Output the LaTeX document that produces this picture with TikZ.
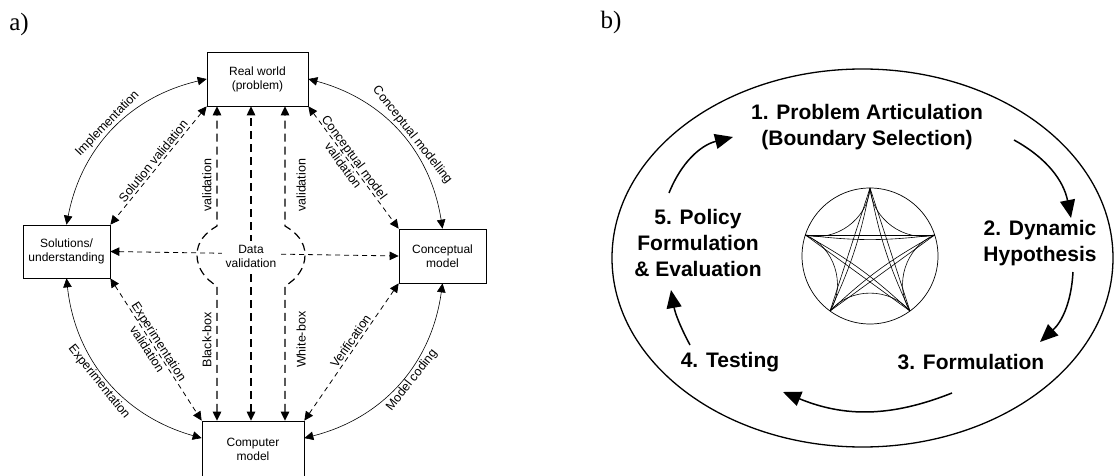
\documentclass[tikz,border=0pt]{standalone}
\usepackage{fontspec}
\setmainfont{Liberation Sans}
\newfontfamily\panelfont{Liberation Serif}
\usetikzlibrary{arrows.meta, positioning, calc}
\tikzset{
  boxA/.style={rectangle, draw, line width=0.7pt, align=center, inner sep=0pt,
               font=\fontsize{12}{14}\selectfont},
  lbl/.style={font=\fontsize{12.5}{14}\selectfont, align=center, inner sep=2pt},
  panel/.style={font=\panelfont\fontsize{25}{28}\selectfont},
  arrowS/.style={{Triangle[length=9pt,width=8.5pt]}-{Triangle[length=9pt,width=8.5pt]},
                 line width=0.6pt},
  arrowV/.style={{Triangle[length=9pt,width=8.5pt]}-{Triangle[length=9pt,width=8.5pt]},
                 line width=0.8pt, dash pattern=on 5pt off 4pt},
  arrowDV/.style={{Triangle[length=9pt,width=8.5pt]}-{Triangle[length=9pt,width=8.5pt]},
                  line width=1.2pt, dash pattern=on 8pt off 5pt},
  stepT/.style={font=\fontsize{21}{26}\selectfont\bfseries, align=center, inner sep=1pt},
  arrowC/.style={-{Triangle[length=18pt,width=15pt]}, line width=1.5pt},
}

\begin{document}
\begin{tikzpicture}[x=1pt, y=1pt]
  \useasboundingbox (0,0) rectangle (1114,475);
  % a) validation cycle
  \node[panel] (pa) at (19,451) {a)};
  \node[boxA, minimum width=101pt, minimum height=54pt] (rw) at (257.5,396) {Real world\\(problem)};
  \node[boxA, minimum width=87pt, minimum height=53pt] (sol) at (66.5,223.5) {Solutions/\\understanding};
  \node[boxA, minimum width=87pt, minimum height=54pt] (conc) at (442.5,219) {Conceptual\\model};
  \node[boxA, minimum width=102pt, minimum height=56pt] (comp) at (253,26) {Computer\\model};

  \draw[arrowS] (rw.west) to[bend right=33]
    node[lbl, sloped, above, pos=0.5] {Implementation} (sol.north);
  \draw[arrowS] (rw.east) to[bend left=33]
    node[lbl, sloped, above, pos=0.55] {Conceptual modelling} (conc.north);
  \draw[arrowS] (sol.south) to[bend right=34]
    node[lbl, sloped, below, pos=0.48] {Experimentation} (comp.168);
  \draw[arrowS] (conc.south) to[bend left=34]
    node[lbl, sloped, below, pos=0.45] {Model coding} (comp.12);

  \draw[arrowV] (rw.south west) --
    node[lbl, sloped, above] {Solution validation} (sol.north east);
  \draw[arrowV] (rw.south east) --
    node[lbl, sloped, pos=0.45] {Conceptual model\\validation} (conc.north west);
  \draw[arrowV] (sol.south east) --
    node[lbl, sloped, pos=0.47] {Experimentation\\validation} (comp.north west);
  \draw[arrowV] (conc.south west) --
    node[lbl, sloped, above, pos=0.45] {Verification} (comp.north east);
  \draw[arrowV] (sol.east) -- (conc.west);

  % data validation
  \coordinate (dvc) at (251,219);
  \coordinate (vL) at (217,220);
  \coordinate (vM) at (251,220);
  \coordinate (vR) at (285,220);
  \draw[arrowDV] (comp.north -| vL) -- node[lbl, sloped, above=3pt, pos=0.6] {Black-box}
    ([yshift=-31pt]vL) .. controls +(-12,7) and +(0,-13) .. ([xshift=-20pt]vL)
    .. controls +(0,13) and +(-12,-7) .. ([yshift=29pt]vL)
    -- node[lbl, sloped, above=3pt, pos=0.34] {validation} (rw.south -| vL);
  \draw[arrowDV] (comp.north -| vR) -- node[lbl, sloped, below=9pt, pos=0.6] {White-box}
    ([yshift=-31pt]vR) .. controls +(12,7) and +(0,-13) .. ([xshift=20pt]vR)
    .. controls +(0,13) and +(12,-7) .. ([yshift=29pt]vR)
    -- node[lbl, sloped, below=9pt, pos=0.34] {validation} (rw.south -| vR);
  \draw[arrowDV] (comp.north -| vM) -- (rw.south -| vM);
  \node[lbl, fill=white, inner sep=4pt, font=\fontsize{12}{14}\selectfont] (dv) at (dvc) {Data\\validation};

  % b) modelling process
  \node[panel] (pb) at (611,453) {b)};
  \draw[line width=1.3pt] (862.5,217) ellipse [x radius=250.5, y radius=189];
  \node[circle, draw, line width=0.7pt, minimum size=136pt, inner sep=0pt] (hub) at (870,219) {};
  \foreach \i in {0,...,4}
    \coordinate (v\i) at ($(hub.center)+({90+72*\i}:68)$);
  \foreach \i in {0,...,4} {
    \pgfmathtruncatemacro{\j}{mod(\i+2,5)}
    \pgfmathtruncatemacro{\k}{mod(\i+1,5)}
    \draw[line width=0.6pt] (v\i) -- (v\j);
    \draw[line width=0.6pt] (v\i) to[bend left=7] (v\j);
    \draw[line width=0.6pt] (v\i) to[bend left=50] (v\k);
  }

  \node[stepT] (p1) at (867,348) {1. Problem Articulation\\(Boundary Selection)};
  \node[stepT] (p2) at (1040,232) {2. Dynamic\\Hypothesis};
  \node[stepT] (p3) at (971,113) {3. Formulation};
  \node[stepT] (p4) at (730,113) {4. Testing};
  \node[stepT] (p5) at (698,232) {5. Policy\\Formulation\\\& Evaluation};

  \draw[arrowC] ($(p5)+(-29,50)$) to[bend left=27] ($(p1)+(-134,-10)$);
  \draw[arrowC] ($(p1)+(147,-13)$) to[bend left=25] ($(p2)+(31,25)$);
  \draw[arrowC] ($(p2)+(33,-29)$) to[bend left=22] ($(p3)+(69,20)$);
  \draw[arrowC] ($(p3)+(-19,-31)$) to[bend left=22] ($(p4)+(53,-30)$);
  \draw[arrowC] ($(p4)+(-40,17)$) to[bend left=9] ($(p5)+(-27,-47)$);
\end{tikzpicture}
\end{document}
